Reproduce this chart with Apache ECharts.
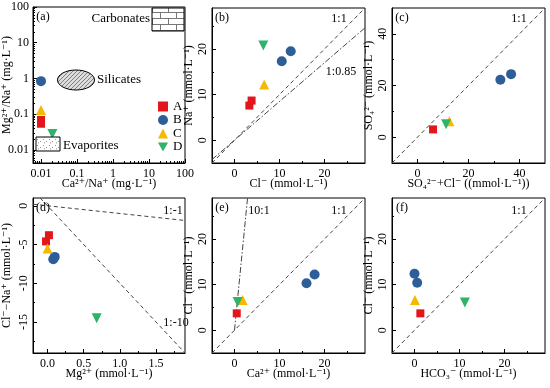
<!DOCTYPE html>
<html><head><meta charset="utf-8">
<script src="https://cdn.jsdelivr.net/npm/echarts@6/dist/echarts.min.js"></script>
<style>html,body{margin:0;padding:0;background:#fff}#c{width:550px;height:388px}</style>
</head><body><div id="c"></div>
<script>
// ---- data ----
const groups = ['A', 'B', 'C', 'D'];
// each panel: one list of [x, y] per group A, B, C, D
const ptsA = [[[0.01, 0.069], [0.01, 0.054]], [[0.01, 0.84]], [[0.01, 0.13]], [[0.0207, 0.028]]];
const ptsB = [[[3.3, 7.6], [3.8, 8.7]], [[10.5, 17.3], [12.5, 19.5]], [[6.6, 12.2]], [[6.4, 20.8]]];
const ptsC = [[[6.1, 3.0]], [[32.5, 22.2], [36.7, 24.4]], [[12.5, 6.2]], [[11.2, 5.0]]];
const ptsD = [[[0.02, -3.8], [-0.02, -4.6]], [[0.08, -6.9], [0.1, -6.6]], [[0.0, -5.5]], [[0.68, -14.5]]];
const ptsE = [[[0.5, 3.7]], [[16.0, 10.3], [17.8, 12.2]], [[1.8, 6.6]], [[0.7, 6.2]]];
const ptsF = [[[1.3, 3.7]], [[0.0, 12.4], [0.6, 10.4]], [[0.1, 6.6]], [[11.2, 6.1]]];
// reference lines
const lineB11 = [[-5, -5], [29, 29]];
const lineB085 = [[-5, -4.25], [29, 24.65]];
const lineC11 = [[-10, -10], [50, 50]];
const lineD1m1 = [[-0.2, 0.2], [1.9, -1.9]];
const lineD1m10 = [[-0.1, 1], [1.9, -19]];
const lineE11 = [[-5, -5], [29, 29]];
const lineE101 = [[0, 0], [2.9, 29]];
const lineF11 = [[-5, -5], [29, 29]];
// tick values
const logMajor = [0.01, 0.1, 1, 10, 100];
const logMinor = [0.001, 0.01, 0.1, 1, 10].flatMap(d => [2, 3, 4, 5, 6, 7, 8, 9].map(m => +(m * d).toPrecision(3)));
const major30 = [0, 10, 20], minor30 = [-5, 5, 15, 25];
const major50 = [0, 20, 40], minor50 = [-10, 10, 30];
const majorMg = [0, 0.5, 1.0, 1.5], minorMg = [0.25, 0.75, 1.25, 1.75];
const majorClNa = [-15, -10, -5, 0], minorClNa = [-17.5, -12.5, -7.5, -2.5];

// ---- styles ----
const FONT = "'Liberation Serif', 'DejaVu Serif', serif";
const colors = ['#e3161c', '#2e5e98', '#f6b800', '#2fb26b'];
const symbols = ['rect', 'circle', 'triangle', 'path://M0,0L10,0L5,9Z'];
const sizes = [8, 10, 10, 10];

const chart = echarts.init(document.getElementById('c'));

const grids = [
  {left: 32, top: 7, width: 153, height: 156},
  {left: 212, top: 8, width: 153, height: 155},
  {left: 392, top: 8, width: 153, height: 155},
  {left: 32, top: 198, width: 153, height: 155},
  {left: 212, top: 198, width: 153, height: 155},
  {left: 392, top: 198, width: 153, height: 155}
].map(g => Object.assign(g, {show: true, borderColor: '#000', borderWidth: 1, containLabel: false}));

const lblStyle = {fontFamily: FONT, fontSize: 12, color: '#000'};
const fmtPlain = v => String(+(+v).toPrecision(6));
const fmtOne = v => (+v).toFixed(1);
function mainAx(type, gi, min, max, name, nameGap, majors, pos, rotate, margin, fmt) {
  return {
    type, gridIndex: gi, min, max, name, nameGap, position: pos, nameLocation: 'middle',
    nameMoveOverlap: false,
    nameTextStyle: Object.assign({}, lblStyle),
    axisLine: {show: true, onZero: false, lineStyle: {color: '#000', width: 1}},
    axisTick: {show: true, inside: true, length: 4, customValues: majors, lineStyle: {color: '#000'}},
    axisLabel: Object.assign({}, lblStyle, {customValues: majors, rotate: rotate || 0, margin: margin,
      formatter: fmt || fmtPlain}),
    splitLine: {show: false}
  };
}
function minorAx(type, gi, min, max, minors, pos) {
  return {
    type, gridIndex: gi, min, max, position: pos,
    axisLine: {show: false, onZero: false},
    axisTick: {show: true, inside: true, length: 2, customValues: minors, lineStyle: {color: '#000'}},
    axisLabel: {show: false}, splitLine: {show: false}
  };
}

const xAxis = [
  mainAx('log', 0, 0.006, 100, 'Ca²⁺/Na⁺ (mg·L⁻¹)', 15, logMajor, 'bottom', 0, 5),
  mainAx('value', 1, -5, 29, 'Cl⁻ (mmol·L⁻¹)', 15, major30, 'bottom', 0, 5),
  mainAx('value', 2, -10, 50, 'SO₄²⁻+Cl⁻ ((mmol·L⁻¹))', 15, major50, 'bottom', 0, 5),
  mainAx('value', 3, -0.2, 1.9, 'Mg²⁺ (mmol·L⁻¹)', 15, majorMg, 'bottom', 0, 5, fmtOne),
  mainAx('value', 4, -5, 29, 'Ca²⁺ (mmol·L⁻¹)', 15, major30, 'bottom', 0, 5),
  mainAx('value', 5, -5, 29, 'HCO₃⁻ (mmol·L⁻¹)', 15, major30, 'bottom', 0, 5),
  minorAx('log', 0, 0.006, 100, logMinor, 'bottom'),
  minorAx('value', 1, -5, 29, minor30, 'bottom'),
  minorAx('value', 2, -10, 50, minor50, 'bottom'),
  minorAx('value', 3, -0.2, 1.9, minorMg, 'bottom'),
  minorAx('value', 4, -5, 29, minor30, 'bottom'),
  minorAx('value', 5, -5, 29, minor30, 'bottom')
];
const yAxis = [
  mainAx('log', 0, 0.0043, 100, 'Mg²⁺/Na⁺ (mg·L⁻¹)', 20, logMajor, 'left', 0, 4),
  mainAx('value', 1, -5, 29, 'Na⁺ (mmol·L⁻¹)', 17, major30, 'left', 90, 3),
  mainAx('value', 2, -10, 50, 'SO₄²⁻ (mmol·L⁻¹)', 17, major50, 'left', 90, 3),
  mainAx('value', 3, -19, 1, 'Cl⁻−Na⁺ (mmol·L⁻¹)', 20, majorClNa, 'left', 90, 3),
  mainAx('value', 4, -5, 29, 'Cl⁻ (mmol·L⁻¹)', 17, major30, 'left', 90, 3),
  mainAx('value', 5, -5, 29, 'Cl⁻ (mmol·L⁻¹)', 17, major30, 'left', 90, 3),
  minorAx('log', 0, 0.0043, 100, logMinor, 'left'),
  minorAx('value', 1, -5, 29, minor30, 'left'),
  minorAx('value', 2, -10, 50, minor50, 'left'),
  minorAx('value', 3, -19, 1, minorClNa, 'left'),
  minorAx('value', 4, -5, 29, minor30, 'left'),
  minorAx('value', 5, -5, 29, minor30, 'left')
];

const series = [];
function refLine(gi, data, dash) {
  series.push({type: 'line', xAxisIndex: gi, yAxisIndex: gi, data, symbol: 'none', silent: true,
    lineStyle: {color: '#444', width: 1, type: dash}, z: 1});
}
const DASH = [4, 3], DASHDOT = [6, 2, 1.5, 2];
refLine(1, lineB11, DASH); refLine(1, lineB085, DASHDOT);
refLine(2, lineC11, DASH);
refLine(3, lineD1m1, DASH); refLine(3, lineD1m10, DASH);
refLine(4, lineE11, DASH); refLine(4, lineE101, DASHDOT);
refLine(5, lineF11, DASH);

[ptsA, ptsB, ptsC, ptsD, ptsE, ptsF].forEach((panel, gi) => {
  panel.forEach((pts, k) => {
    series.push({type: 'scatter', name: groups[k], xAxisIndex: gi, yAxisIndex: gi, data: pts,
      symbol: symbols[k], symbolSize: sizes[k], itemStyle: {color: colors[k], opacity: 1}, z: 3});
  });
});

// patterns
function mkCanvas(w, h, draw) { const c = document.createElement('canvas'); c.width = w; c.height = h; draw(c.getContext('2d')); return c; }
const hatch = mkCanvas(4, 4, g => { g.fillStyle = '#ddd'; g.fillRect(0, 0, 4, 4); g.strokeStyle = '#666'; g.lineWidth = 0.8; g.beginPath(); g.moveTo(0, 4); g.lineTo(4, 0); g.stroke(); });
const dots = mkCanvas(6, 6, g => { g.fillStyle = '#fff'; g.fillRect(0, 0, 6, 6); g.fillStyle = '#555'; g.fillRect(1, 1, 0.8, 0.8); g.fillRect(4, 3, 0.8, 0.8); g.fillRect(2, 4.5, 0.8, 0.8); });
const brick = mkCanvas(16, 12, g => { g.fillStyle = '#fff'; g.fillRect(0, 0, 16, 12); g.strokeStyle = '#777'; g.lineWidth = 1;
  g.beginPath(); g.moveTo(0, 0.5); g.lineTo(16, 0.5); g.moveTo(0, 6.5); g.lineTo(16, 6.5);
  g.moveTo(0.5, 0); g.lineTo(0.5, 6); g.moveTo(8.5, 6); g.lineTo(8.5, 12); g.stroke(); });

const txt = (x, y, text, align, size) => ({type: 'text', x, y, z: 10,
  style: {text, fontFamily: FONT, fontSize: size || 12, fill: '#000', align: align || 'center', verticalAlign: 'middle'}});

const graphic = [
  txt(43, 17, '(a)'), txt(222, 18, '(b)'), txt(402, 18, '(c)'),
  txt(43, 208, '(d)'), txt(222, 208, '(e)'), txt(402, 208, '(f)'),
  txt(339, 19, '1:1'), txt(341, 72, '1:0.85'), txt(519, 19, '1:1'),
  txt(173, 211, '1:-1'), txt(176, 323, '1:-10'),
  txt(259, 211, '10:1'), txt(339, 211, '1:1'), txt(519, 211, '1:1'),
  // (a) annotations
  {type: 'rect', shape: {x: 152, y: 8, width: 32, height: 23}, style: {fill: {image: brick, repeat: 'repeat'}, stroke: '#000', lineWidth: 1}, z: 5},
  txt(150, 19, 'Carbonates', 'right', 13),
  {type: 'ellipse', shape: {cx: 76, cy: 80, rx: 18.5, ry: 10}, style: {fill: {image: hatch, repeat: 'repeat'}, stroke: '#000', lineWidth: 1}, z: 5},
  txt(97, 80, 'Silicates', 'left', 13),
  {type: 'rect', shape: {x: 36, y: 137, width: 24, height: 14}, style: {fill: {image: dots, repeat: 'repeat'}, stroke: '#000', lineWidth: 1}, z: 5},
  txt(63, 146, 'Evaporites', 'left', 13)
];

chart.setOption({
  animation: false,
  backgroundColor: '#fff',
  textStyle: {fontFamily: FONT},
  grid: grids, xAxis, yAxis, series, graphic,
  legend: {
    data: groups.map((g, k) => ({name: g, icon: symbols[k]})),
    orient: 'vertical', left: 158, top: 100, padding: 0, z: 20,
    itemWidth: 10, itemHeight: 10, itemGap: 0.5,
    textStyle: {fontFamily: FONT, fontSize: 13, color: '#000'}, selectedMode: false
  }
});
</script></body></html>
